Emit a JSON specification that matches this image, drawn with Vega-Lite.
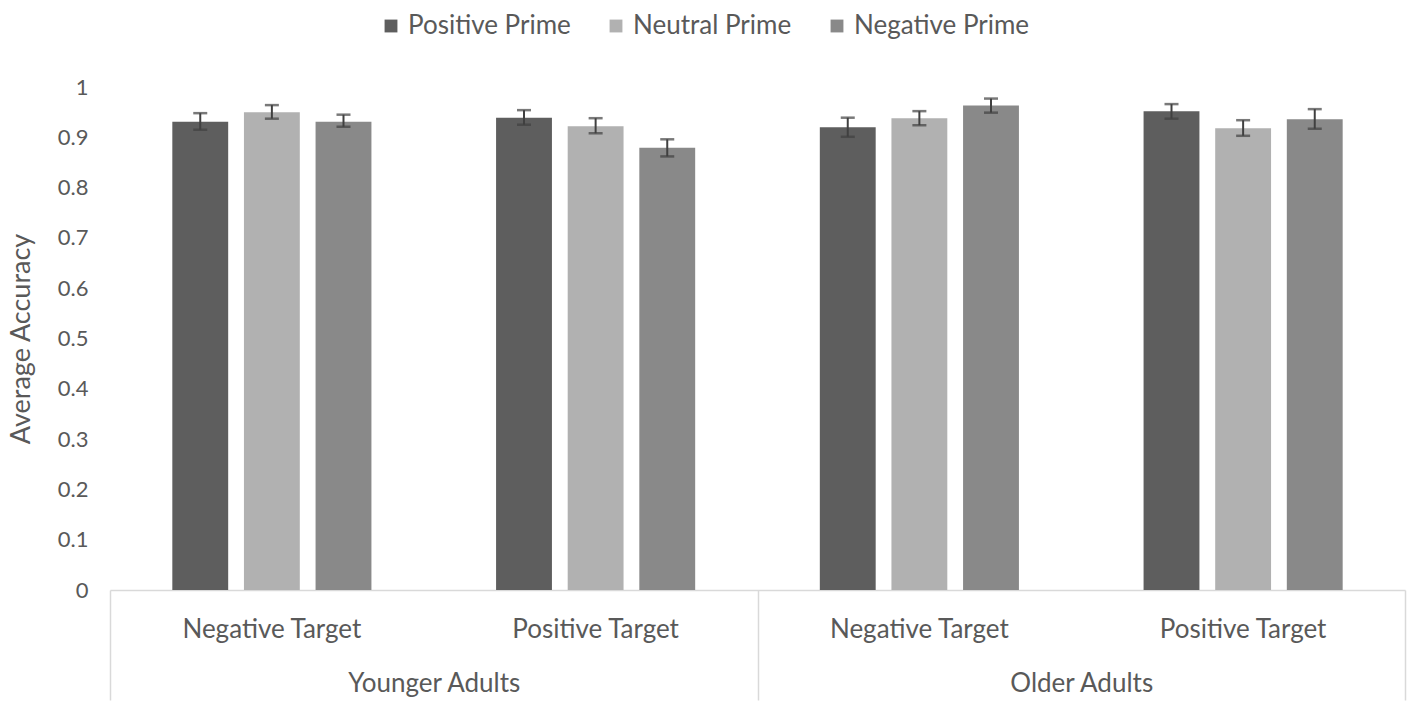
{
  "$schema": "https://vega.github.io/schema/vega-lite/v6.json",
  "width": 1295,
  "height": 503,
  "padding": {"left": 7, "top": 13, "right": 5, "bottom": 5},
  "background": "white",
  "data": {
    "values": [
      {"age": "Younger Adults", "target": "Negative Target", "key": "Younger Adults|Negative Target", "prime": "Positive Prime", "acc": 0.931, "lo": 0.915, "hi": 0.948},
      {"age": "Younger Adults", "target": "Negative Target", "key": "Younger Adults|Negative Target", "prime": "Neutral Prime", "acc": 0.950, "lo": 0.937, "hi": 0.964},
      {"age": "Younger Adults", "target": "Negative Target", "key": "Younger Adults|Negative Target", "prime": "Negative Prime", "acc": 0.931, "lo": 0.921, "hi": 0.945},
      {"age": "Younger Adults", "target": "Positive Target", "key": "Younger Adults|Positive Target", "prime": "Positive Prime", "acc": 0.939, "lo": 0.925, "hi": 0.954},
      {"age": "Younger Adults", "target": "Positive Target", "key": "Younger Adults|Positive Target", "prime": "Neutral Prime", "acc": 0.922, "lo": 0.908, "hi": 0.938},
      {"age": "Younger Adults", "target": "Positive Target", "key": "Younger Adults|Positive Target", "prime": "Negative Prime", "acc": 0.879, "lo": 0.862, "hi": 0.896},
      {"age": "Older Adults", "target": "Negative Target", "key": "Older Adults|Negative Target", "prime": "Positive Prime", "acc": 0.920, "lo": 0.901, "hi": 0.939},
      {"age": "Older Adults", "target": "Negative Target", "key": "Older Adults|Negative Target", "prime": "Neutral Prime", "acc": 0.938, "lo": 0.924, "hi": 0.952},
      {"age": "Older Adults", "target": "Negative Target", "key": "Older Adults|Negative Target", "prime": "Negative Prime", "acc": 0.963, "lo": 0.949, "hi": 0.977},
      {"age": "Older Adults", "target": "Positive Target", "key": "Older Adults|Positive Target", "prime": "Positive Prime", "acc": 0.952, "lo": 0.937, "hi": 0.966},
      {"age": "Older Adults", "target": "Positive Target", "key": "Older Adults|Positive Target", "prime": "Neutral Prime", "acc": 0.918, "lo": 0.903, "hi": 0.934},
      {"age": "Older Adults", "target": "Positive Target", "key": "Older Adults|Positive Target", "prime": "Negative Prime", "acc": 0.936, "lo": 0.917, "hi": 0.956}
    ]
  },
  "layer": [
    {
      "encoding": {
        "x": {
          "field": "key",
          "type": "nominal",
          "sort": null,
          "scale": {"paddingInner": 0.385, "paddingOuter": 0.1925},
          "axis": {
            "orient": "bottom",
            "title": null,
            "labelAngle": 0,
            "labelExpr": "split(datum.label, '|')[1]",
            "labelFontSize": 26,
            "ticks": false,
            "labelPadding": 26,
            "domainColor": "#d9d9d9",
            "domainWidth": 1.5
          }
        },
        "xOffset": {
          "field": "prime",
          "type": "nominal",
          "sort": ["Positive Prime", "Neutral Prime", "Negative Prime"],
          "scale": {"paddingInner": 0.22, "paddingOuter": 0}
        }
      },
      "layer": [
        {
          "mark": {"type": "bar"},
          "encoding": {
            "y": {
              "field": "acc",
              "type": "quantitative",
              "scale": {"domain": [0, 1]},
              "axis": {
                "title": "Average Accuracy",
                "titleFontSize": 27,
                "values": [0, 0.1, 0.2, 0.3, 0.4, 0.5, 0.6, 0.7, 0.8, 0.9, 1],
                "format": ".1~f",
                "grid": false,
                "domain": false,
                "ticks": false,
                "labelPadding": 22,
                "titlePadding": 22
              }
            },
            "color": {
              "field": "prime",
              "type": "nominal",
              "sort": ["Positive Prime", "Neutral Prime", "Negative Prime"],
              "scale": {
                "domain": ["Positive Prime", "Neutral Prime", "Negative Prime"],
                "range": ["#5e5e5e", "#b1b1b1", "#898989"]
              },
              "legend": {
                "title": null,
                "orient": "none",
                "direction": "horizontal",
                "legendX": 268,
                "legendY": -74,
                "symbolType": "square",
                "symbolSize": 165,
                "symbolStrokeWidth": 0,
                "labelOffset": 4,
                "labelLimit": 400,
                "columnPadding": 32
              }
            }
          }
        },
        {
          "mark": {"type": "rule", "color": "#404040", "strokeWidth": 2},
          "encoding": {
            "y": {"field": "lo", "type": "quantitative"},
            "y2": {"field": "hi"}
          }
        },
        {
          "mark": {"type": "tick", "color": "#404040", "thickness": 2.5, "size": 14},
          "encoding": {
            "y": {"field": "hi", "type": "quantitative"}
          }
        },
        {
          "mark": {"type": "tick", "color": "#404040", "thickness": 2.5, "size": 14},
          "encoding": {
            "y": {"field": "lo", "type": "quantitative"}
          }
        }
      ]
    },
    {
      "mark": {"type": "rule", "opacity": 0},
      "encoding": {
        "x": {
          "field": "age",
          "type": "nominal",
          "sort": ["Younger Adults", "Older Adults"],
          "scale": {"paddingInner": 0, "paddingOuter": 0},
          "axis": {
            "orient": "bottom",
            "title": null,
            "labelAngle": 0,
            "labelFontSize": 26,
            "domain": false,
            "ticks": true,
            "tickBand": "extent",
            "tickSize": 110,
            "tickColor": "#d9d9d9",
            "tickWidth": 1.5,
            "labelPadding": -30
          }
        }
      }
    }
  ],
  "resolve": {"scale": {"x": "independent"}, "axis": {"x": "independent"}},
  "config": {
    "view": {"stroke": null},
    "font": "Lato",
    "axis": {
      "labelFont": "Lato",
      "labelFontSize": 22,
      "labelColor": "#595959",
      "titleFont": "Lato",
      "titleFontSize": 22,
      "titleFontWeight": "normal",
      "titleColor": "#595959"
    },
    "legend": {
      "labelFont": "Lato",
      "labelFontSize": 26,
      "labelColor": "#595959"
    }
  }
}
